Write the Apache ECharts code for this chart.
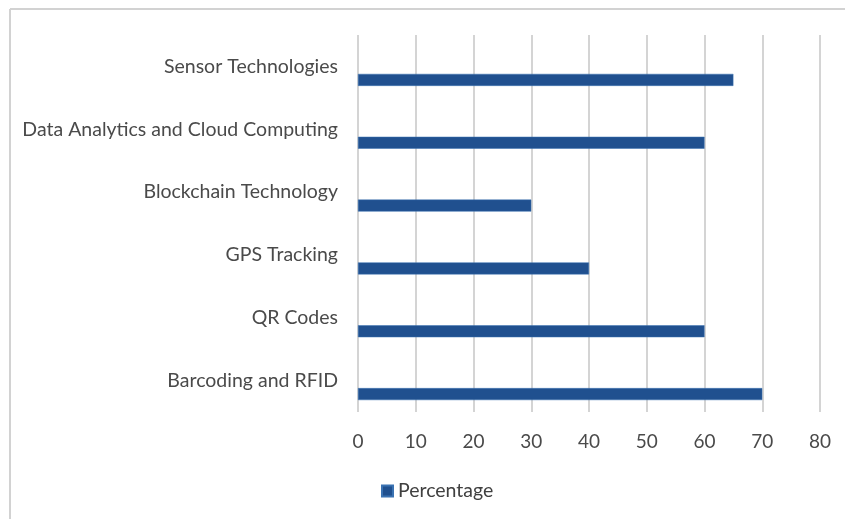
<!DOCTYPE html>
<html>
<head>
<meta charset="utf-8">
<script src="https://cdn.jsdelivr.net/npm/echarts@6/dist/echarts.min.js"></script>
<style>
  html, body { margin: 0; padding: 0; background: #ffffff; }
  #chart { width: 845px; height: 519px; }
</style>
</head>
<body>
<div id="chart"></div>
<script>
// Categories listed bottom to top along the vertical axis
const categories = [
  'Barcoding and RFID',
  'QR Codes',
  'GPS Tracking',
  'Blockchain Technology',
  'Data Analytics and Cloud Computing',
  'Sensor Technologies'
];
const percentages = [70, 60, 40, 30, 60, 65];
const seriesName = 'Percentage';
const axisMin = 0;
const axisMax = 80;
const axisStep = 10;

const chart = echarts.init(document.getElementById('chart'), null, { renderer: 'canvas' });

const font = 'Lato, "Open Sans", sans-serif';
const gridColor = '#c6c6c6';
const textColor = '#4a4a4a';

chart.setOption({
  backgroundColor: '#ffffff',
  animation: false,
  graphic: [
    // outer frame (top and left edges)
    { type: 'line', shape: { x1: 10, y1: 9, x2: 845, y2: 9 }, style: { stroke: '#d2d2d2', lineWidth: 2 } },
    { type: 'line', shape: { x1: 10, y1: 9, x2: 10, y2: 519 }, style: { stroke: '#d2d2d2', lineWidth: 2 } }
  ],
  grid: { left: 358, right: 25, top: 35, bottom: 107, containLabel: false },
  legend: {
    data: [seriesName],
    left: 376,
    top: 476,
    icon: 'rect',
    itemWidth: 11,
    itemHeight: 11,
    itemGap: 10,
    textStyle: { fontFamily: font, fontSize: 19.5, color: '#404040' }
  },
  xAxis: {
    type: 'value',
    min: axisMin,
    max: axisMax,
    interval: axisStep,
    axisLine: { show: false },
    axisTick: { show: false },
    splitLine: { show: true, lineStyle: { color: gridColor, width: 1.5 } },
    axisLabel: { fontFamily: font, fontSize: 19, color: textColor, margin: 20 }
  },
  yAxis: {
    type: 'category',
    data: categories,
    axisLine: { show: false },
    axisTick: { show: false },
    axisLabel: { fontFamily: font, fontSize: 19.5, color: textColor, margin: 20, padding: [3, 0, 0, 0] }
  },
  series: [
    {
      // empty companion slot that keeps each bar in the lower half of its band
      name: '',
      type: 'bar',
      data: [],
      barWidth: 12,
      silent: true
    },
    {
      name: seriesName,
      type: 'bar',
      data: percentages,
      barWidth: 12,
      barGap: '125%',
      itemStyle: { color: '#20508f', borderColor: '#3a72b2', borderWidth: 0.5 }
    }
  ]
});
</script>
</body>
</html>
